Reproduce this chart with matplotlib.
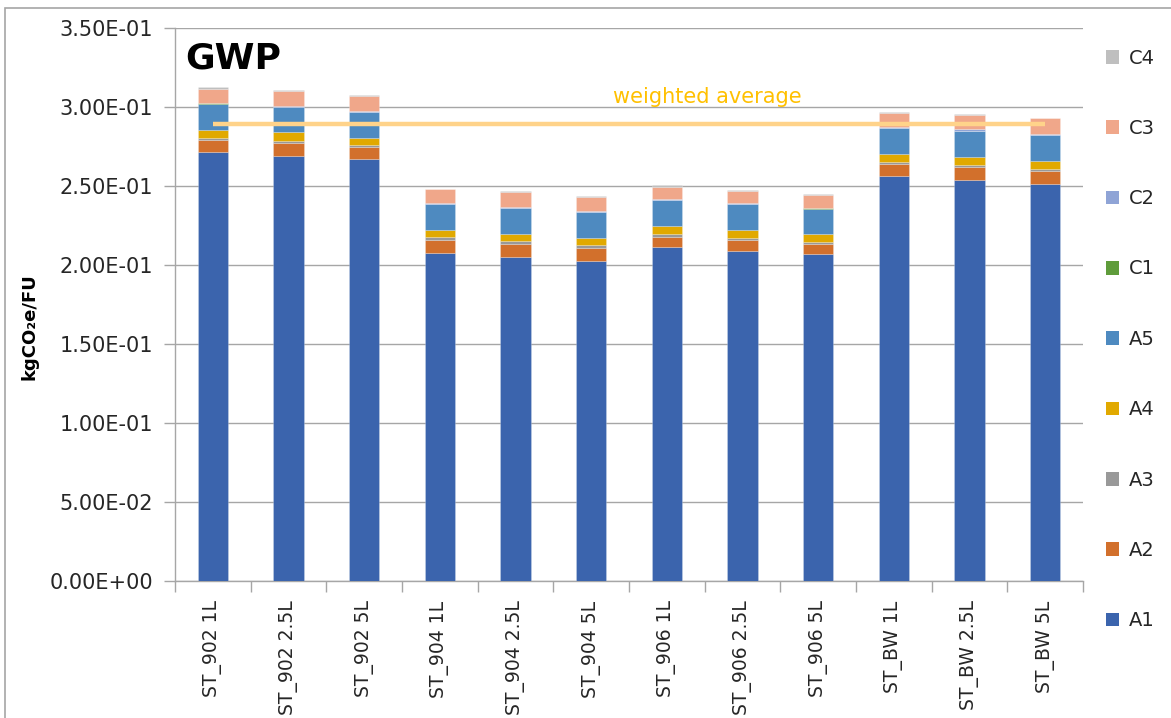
import numpy as np
import matplotlib
matplotlib.use("Agg")
import matplotlib.pyplot as plt
from matplotlib.patches import Patch, Rectangle
from matplotlib.ticker import FormatStrFormatter

# categories
cats = ["ST_902 1L", "ST_902 2.5L", "ST_902 5L",
        "ST_904 1L", "ST_904 2.5L", "ST_904 5L",
        "ST_906 1L", "ST_906 2.5L", "ST_906 5L",
        "ST_BW 1L", "ST_BW 2.5L", "ST_BW 5L"]

# stage contributions (kgCO2e/FU)
A1 = [0.2718, 0.2692, 0.2669, 0.2078, 0.2053, 0.2028, 0.2116, 0.2091, 0.2068, 0.2564, 0.2538, 0.2515]
A2 = [0.0072, 0.0082, 0.0080, 0.0081, 0.0080, 0.0082, 0.0064, 0.0068, 0.0065, 0.0074, 0.0081, 0.0082]
A3 = [0.0016, 0.0009, 0.0011, 0.0017, 0.0017, 0.0015, 0.0017, 0.0014, 0.0015, 0.0014, 0.0014, 0.0009]
A4 = [0.0049, 0.0057, 0.0046, 0.0046, 0.0048, 0.0048, 0.0050, 0.0049, 0.0050, 0.0051, 0.0051, 0.0054]
A5 = [0.0166, 0.0160, 0.0163, 0.0162, 0.0163, 0.0163, 0.0163, 0.0162, 0.0159, 0.0161, 0.0163, 0.0161]
C1 = [0.0002, 0.0002, 0.0002, 0.0002, 0.0002, 0.0002, 0.0002, 0.0002, 0.0002, 0.0002, 0.0002, 0.0002]
C2 = [0.0004, 0.0004, 0.0004, 0.0004, 0.0004, 0.0004, 0.0004, 0.0004, 0.0004, 0.0010, 0.0010, 0.0005]
C3 = [0.0090, 0.0096, 0.0095, 0.0089, 0.0095, 0.0091, 0.0080, 0.0081, 0.0082, 0.0089, 0.0091, 0.0100]
C4 = [0.0008, 0.0006, 0.0005, 0.0005, 0.0005, 0.0005, 0.0008, 0.0005, 0.0005, 0.0005, 0.0005, 0.0005]
weighted_avg = 0.2893

stages = ["A1", "A2", "A3", "A4", "A5", "C1", "C2", "C3", "C4"]
series = [A1, A2, A3, A4, A5, C1, C2, C3, C4]
colors = ["#3B64AD", "#D2702C", "#999999", "#E1A900", "#4E8AC0",
          "#5F9C3B", "#8FA4D6", "#F0A78A", "#BFBFBF"]

fig = plt.figure(figsize=(11.71, 7.18), dpi=100)
ax = fig.add_axes([175/1171, 1-581/718, (1083-175)/1171, (581-28)/718])

x = np.arange(len(cats))
bottom = np.zeros(len(cats))
for name, vals, c in zip(stages, series, colors):
    ax.bar(x, vals, 0.4, bottom=bottom, color=c, edgecolor=(1, 1, 1, 0.3),
           linewidth=0.5, zorder=3)
    bottom += np.array(vals)

# weighted average line
ax.plot([x[0], x[-1]], [weighted_avg, weighted_avg], color="#FFD38A", lw=3.2,
        solid_capstyle="butt", zorder=4)
ax.text(6.53, 0.2998, "weighted average", color="#FFC000", fontsize=15,
        ha="center", va="bottom", zorder=5)

ax.set_xlim(-0.5, len(cats) - 0.5)
ax.set_ylim(0, 0.35)
ax.set_yticks(np.arange(0, 0.351, 0.05))
ax.yaxis.set_major_formatter(FormatStrFormatter("%.2E"))
ax.grid(axis="y", color="#A6A6A6", lw=1.0, zorder=0)

ax.set_xticks(x)
ax.set_xticklabels(cats, rotation=90, fontsize=13.5, color="#262626")
ax.set_xticks(np.arange(-0.5, len(cats)), minor=True)
ax.tick_params(axis="x", which="major", length=0, pad=14)
ax.tick_params(axis="x", which="minor", length=8, color="#A6A6A6", width=1)
ax.tick_params(axis="y", length=8, color="#A6A6A6", width=1, labelsize=15,
               labelcolor="#262626", pad=8)

for s in ["top", "right"]:
    ax.spines[s].set_visible(False)
for s in ["left", "bottom"]:
    ax.spines[s].set_color("#A6A6A6")
    ax.spines[s].set_linewidth(1)

ax.text(0.011, 0.975, "GWP", transform=ax.transAxes, fontsize=26,
        fontweight="bold", ha="left", va="top")

fig.text(30/1171, 1-327/718, "kgCO₂e/FU", rotation=90, fontsize=13,
         fontweight="bold", ha="center", va="center")

handles = [Patch(facecolor=c, edgecolor="none") for c in colors][::-1]
fig.legend(handles, stages[::-1], loc="upper left",
           bbox_to_anchor=(1088/1171, 1-31/718), frameon=False, fontsize=14,
           handlelength=0.7, handleheight=0.7, handletextpad=0.5,
           labelspacing=2.64, labelcolor="#262626")

# chart outer border
fig.patches.append(Rectangle((5/1171, -0.05), 1.1, 1-8/718+0.05,
                             transform=fig.transFigure, fill=False,
                             edgecolor="#A6A6A6", lw=1.2))

fig.savefig("out.png", dpi=100)
